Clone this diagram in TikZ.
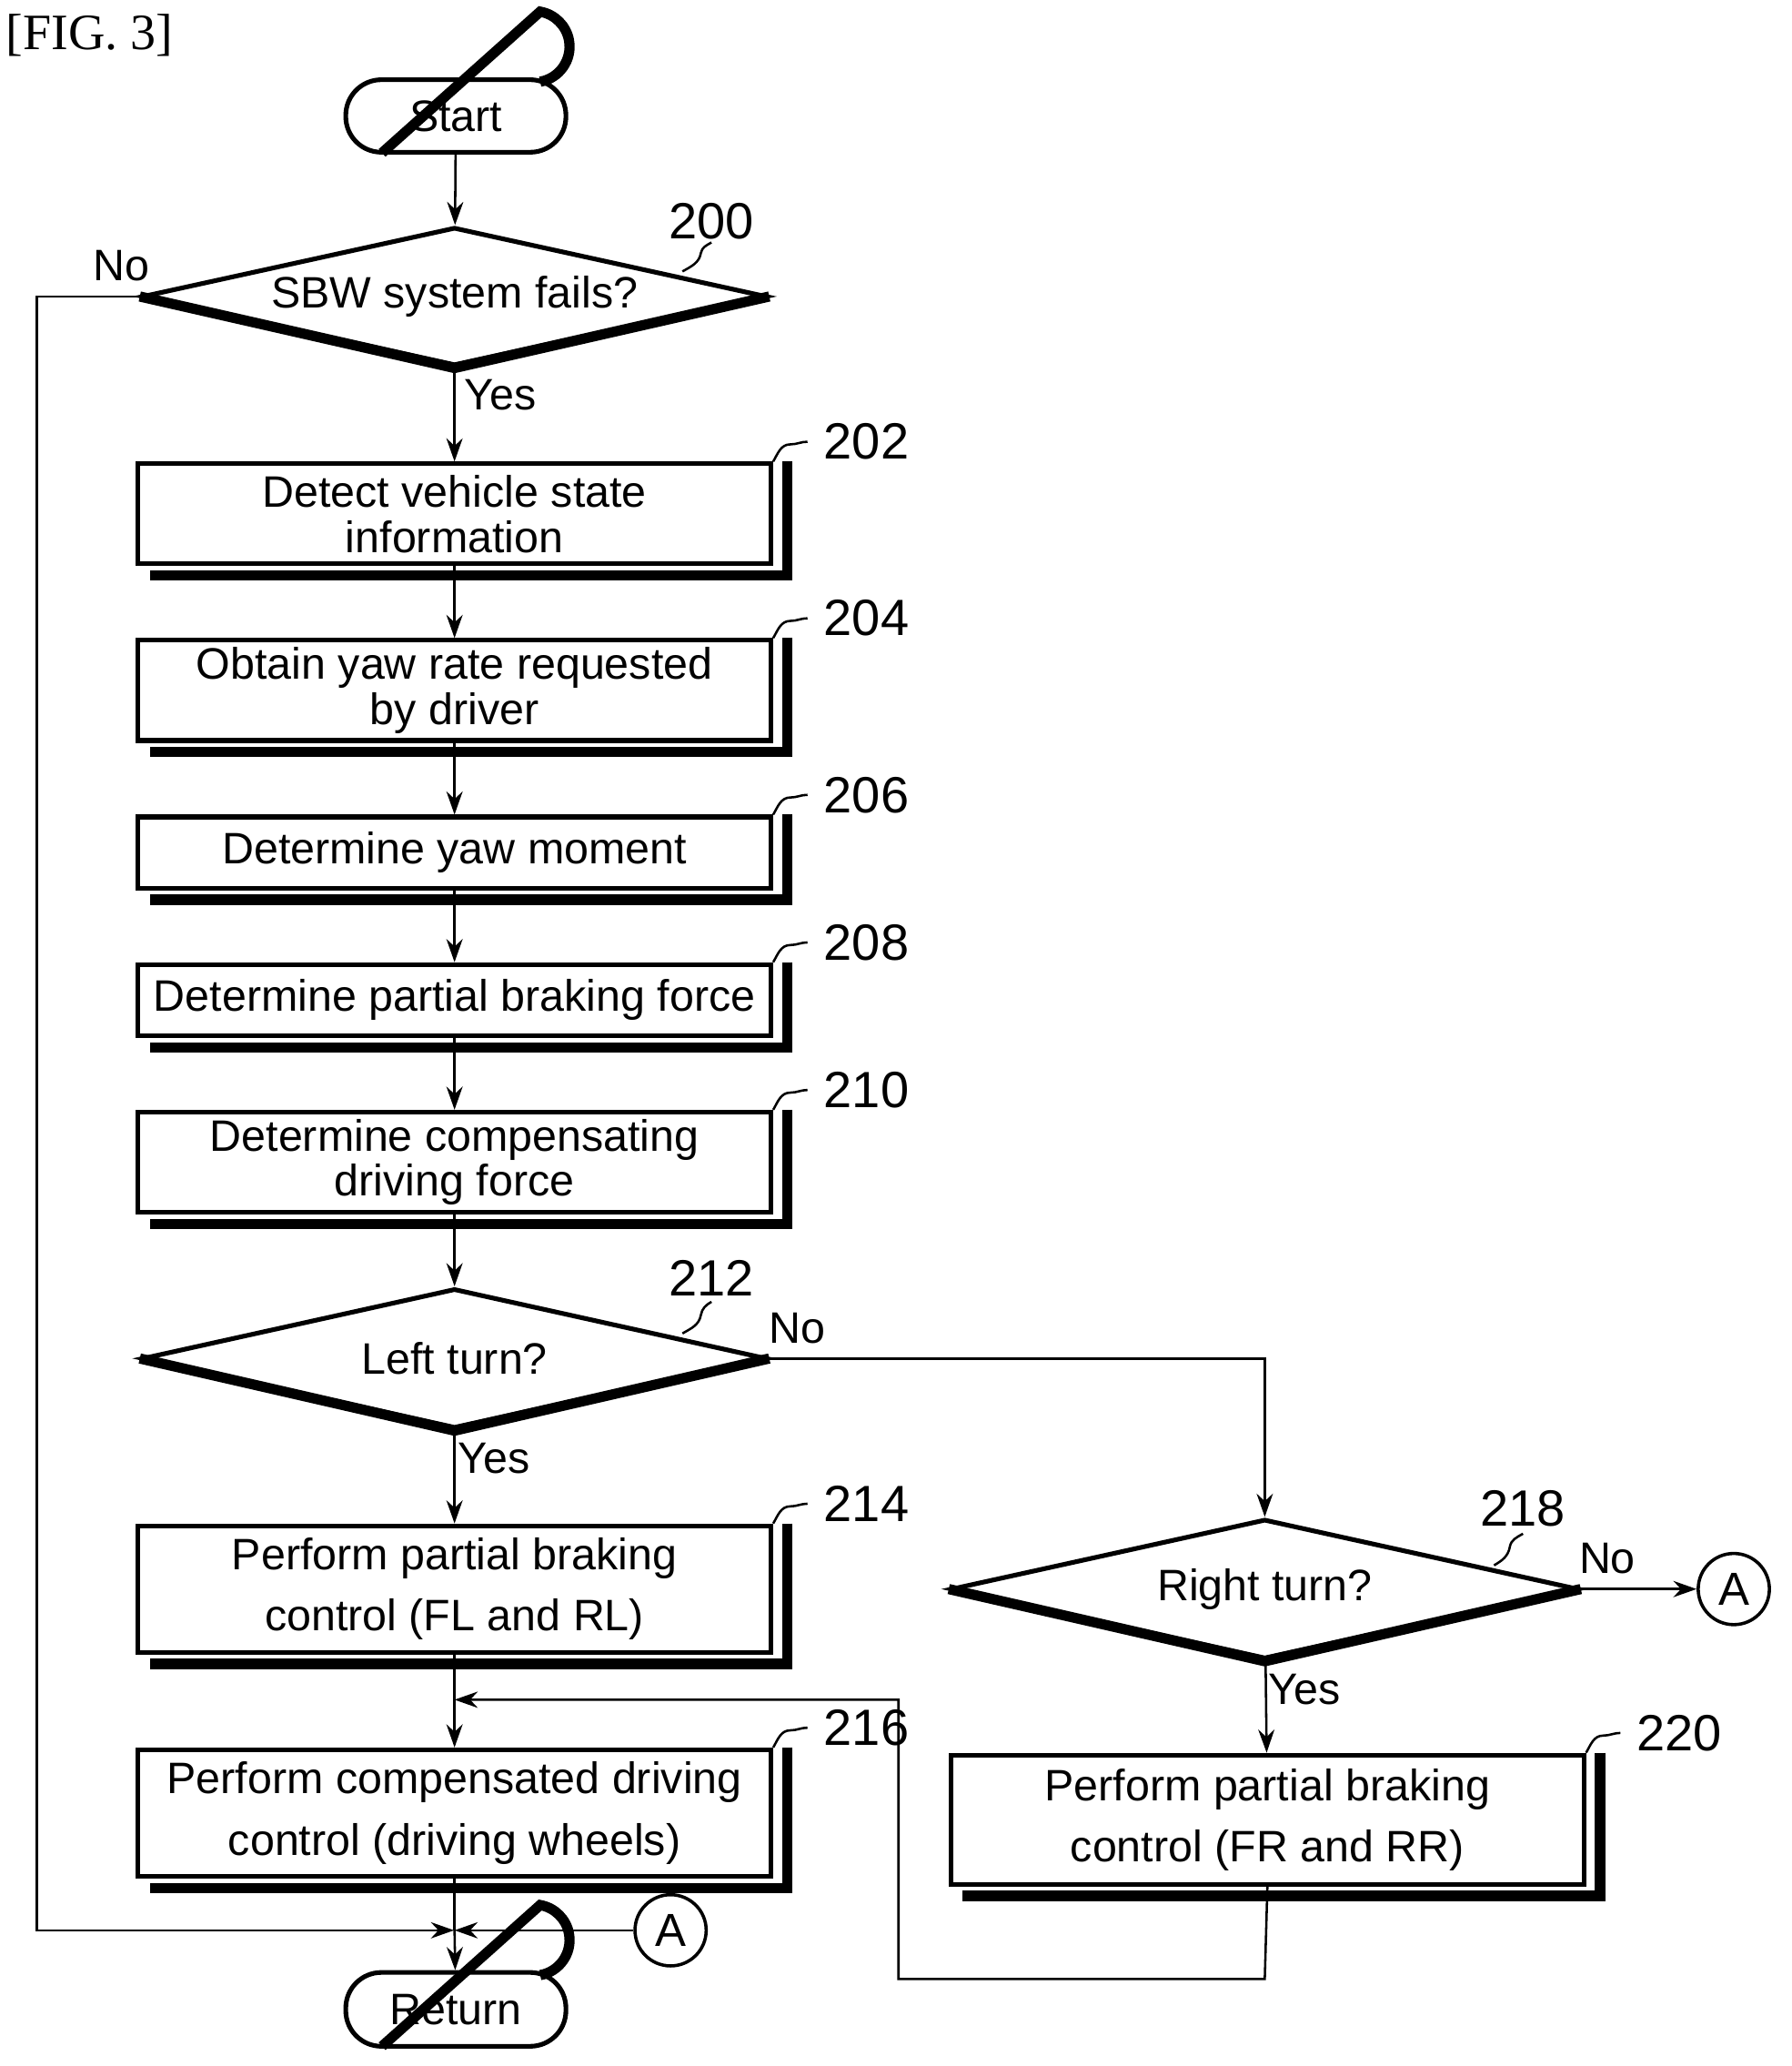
\documentclass[tikz,border=0pt]{standalone}
\usepackage{fontspec}
\setmainfont{Liberation Sans}
\newfontfamily\figfont{Liberation Serif}
\usetikzlibrary{shapes.geometric,arrows.meta}
\begin{document}
\begin{tikzpicture}[x=0.01cm,y=-0.01cm,
  txt/.style={font=\fontsize{9.5}{9.8}\selectfont,align=center},
  box/.style={draw,line width=1pt,txt,inner sep=0pt},
  sh/.style={line width=2.2pt},
  lbl/.style={font=\fontsize{11}{12}\selectfont},
  yn/.style={font=\fontsize{9.5}{10}\selectfont},
  con/.style={line width=0.5pt},
  arr/.style={con,-{Stealth[length=5pt,width=3.5pt]}},
  circ/.style={draw,circle,minimum size=0.54cm,inner sep=0pt,line width=0.7pt,font=\fontsize{10}{10}\selectfont}]
\useasboundingbox (0,0) rectangle (1360,1568);
\node[font=\figfont\fontsize{11}{12}\selectfont] (fig) at (68,27) {[FIG. 3]};
% start / return
\node[box,rounded corners=0.27cm,minimum width=1.67cm,minimum height=0.55cm] (start) at (346,88) {Start};
\draw[sh] (410,62) arc[start angle=80,end angle=-80,radius=27] -- (290,116);
\node[box,rounded corners=0.27cm,minimum width=1.67cm,minimum height=0.56cm] (ret) at (346,1525) {Return};
\draw[sh] (410,1499) arc[start angle=80,end angle=-80,radius=27] -- (290,1553);
% diamonds
\newcommand{\dia}[3]{%
 \coordinate (#1l) at ($(#2)+(-237,0)$);}
\node[draw,diamond,aspect=4.5,minimum width=4.74cm,minimum height=1.05cm,inner sep=0pt,line width=1pt,txt] (d200) at (345,225) {SBW system fails?};
\draw[sh] (d200.east) -- (d200.south) -- (d200.west);
\node[draw,diamond,aspect=4.5,minimum width=4.74cm,minimum height=1.06cm,inner sep=0pt,line width=1pt,txt] (d212) at (345,1031) {Left turn?};
\draw[sh] (d212.east) -- (d212.south) -- (d212.west);
\node[draw,diamond,aspect=4.5,minimum width=4.76cm,minimum height=1.06cm,inner sep=0pt,line width=1pt,txt] (d218) at (960,1206) {Right turn?};
\draw[sh] (d218.east) -- (d218.south) -- (d218.west);
% boxes
\foreach \n/\y/\h/\t in {b202/390/76/{Detect vehicle state\\information},
  b204/524/76/{Obtain yaw rate requested\\by driver},
  b206/647/54/{Determine yaw moment},
  b208/759/54/{Determine partial braking force},
  b210/882/76/{Determine compensating\\driving force},
  b214/1206/96/{Perform partial braking\\[0.12cm]control (FL and RL)},
  b216/1376/96/{Perform compensated driving\\[0.12cm]control (driving wheels)}}{
  \node[box,minimum width=4.8cm,minimum height=\h*0.01cm] (\n) at (345,\y) {\t};
  \draw[sh] ([xshift=3pt]\n.north east) -- ([xshift=3pt,yshift=-2pt]\n.south east) -- ([xshift=3pt,yshift=-2pt]\n.south west);
}
\node[box,minimum width=4.8cm,minimum height=0.98cm] (b220) at (962,1381) {Perform partial braking\\[0.12cm]control (FR and RR)};
\draw[sh] ([xshift=3pt]b220.north east) -- ([xshift=3pt,yshift=-2pt]b220.south east) -- ([xshift=3pt,yshift=-2pt]b220.south west);
% labels with leaders
\node[lbl] (n200) at (540,168) {200};
\draw[con] (518,206) to[out=30,in=-100] (532,192) to[out=80,in=-150] (540,184);
\node[lbl] (n212) at (540,970) {212};
\draw[con] (518,1012) to[out=30,in=-100] (532,998) to[out=80,in=-150] (540,988);
\node[lbl] (n218) at (1156,1145) {218};
\draw[con] (1134,1188) to[out=30,in=-100] (1146,1174) to[out=80,in=-150] (1156,1164);
\foreach \n/\b in {202/b202,204/b204,206/b206,208/b208,210/b210,214/b214,216/b216}{
  \node[lbl,anchor=west] (n\n) at ([xshift=0.26cm,yshift=0.15cm]\b.north east) {\n};
  \draw[con] (\b.north east) to[out=60,in=180] ([xshift=0.13cm,yshift=0.13cm]\b.north east) to[out=0,in=180] (n\n.west);
}
\node[lbl,anchor=west] (n220) at ([xshift=0.26cm,yshift=0.15cm]b220.north east) {220};
\draw[con] (b220.north east) to[out=60,in=180] ([xshift=0.13cm,yshift=0.13cm]b220.north east) to[out=0,in=180] (n220.west);
% circles
\node[circ] (a1) at (1316,1206) {A};
\node[circ] (a2) at (509,1465) {A};
% connectors
\coordinate (j1) at (345,1465);
\coordinate (j2) at (345,1290);
\draw[arr] (start) -- (d200);
\draw[arr] (d200) -- (b202);
\draw[arr] (b202) -- (b204);
\draw[arr] (b204) -- (b206);
\draw[arr] (b206) -- (b208);
\draw[arr] (b208) -- (b210);
\draw[arr] (b210) -- (d212);
\draw[arr] (d212) -- (b214);
\draw[arr] (b214) -- (b216);
\draw[con] (b216) -- (j1);
\draw[arr] (j1) -- (ret);
\draw[arr] (d200.west) -- (28,225) -- (28,1465) -- ([xshift=-0.1pt]j1);
\draw[arr] (a2) -- (j1);
\draw[arr] (d212.east) -| (d218.north);
\draw[arr] (d218.east) -- (a1);
\draw[arr] (d218) -- (b220);
\draw[arr] (b220.south) -- (960,1502) -- (682,1502) -- (682,1290) -- (j2);
% yes/no
\node[yn] (no1) at (92,202) {No};
\node[yn] (yes1) at (380,300) {Yes};
\node[yn] (no2) at (605,1008) {No};
\node[yn] (yes2) at (375,1107) {Yes};
\node[yn] (no3) at (1220,1183) {No};
\node[yn] (yes3) at (990,1282) {Yes};
\end{tikzpicture}
\end{document}
